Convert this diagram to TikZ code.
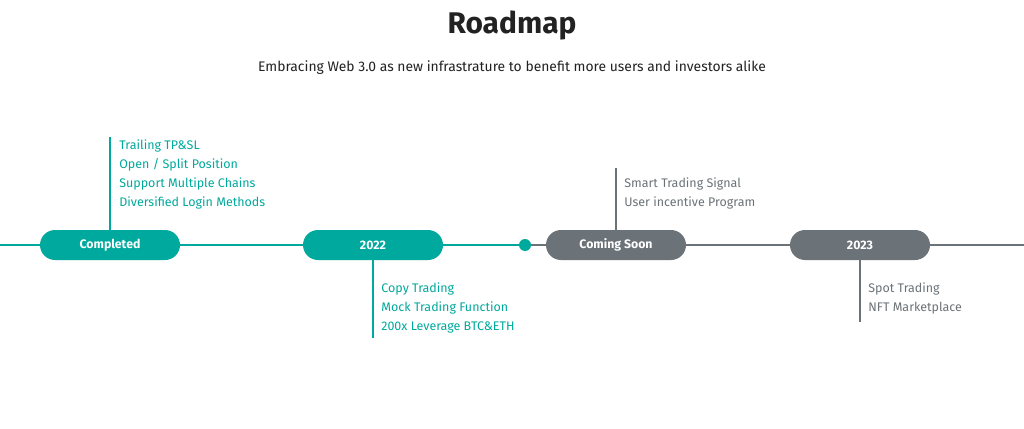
\documentclass[tikz,border=0pt]{standalone}
\usepackage{fontspec}
\setmainfont{Fira Sans}
\definecolor{teal1}{HTML}{00A99D}
\definecolor{gray1}{HTML}{6B7378}
\definecolor{txt}{HTML}{222222}
\begin{document}
\begin{tikzpicture}[x=0.02cm,y=-0.02cm,
 pill/.style={rounded corners=15*0.02cm,minimum width=140*0.02cm,minimum height=30*0.02cm,inner sep=0,text=white,font=\fontsize{7}{8}\selectfont\bfseries},
 item/.style={anchor=west,inner sep=0,font=\fontsize{7.1}{8}\selectfont},
 lt/.style={line width=0.6pt}]
\useasboundingbox (0,0) rectangle (1024,429);
\fill[white] (0,0) rectangle (1024,429);
\node[font=\fontsize{17}{20}\selectfont\bfseries,text=txt] (title) at (512,25) {Roadmap};
\node[font=\fontsize{7.9}{9}\selectfont,text=txt] (sub) at (512,68) {Embracing Web 3.0 as new infrastrature to benefit more users and investors alike};
\coordinate (L) at (0,245); \coordinate (R) at (1024,245);
\node[circle,fill=teal1,minimum size=12*0.02cm,inner sep=0] (dot) at (525,245) {};
\draw[lt,teal1] (L) -- (dot.center);
\draw[lt,gray1] (dot.east) -- (R);
\node[pill,fill=teal1] (c) at (110,245) {Completed};
\node[pill,fill=teal1] (y22) at (373,245) {2022};
\node[pill,fill=gray1] (cs) at (616,245) {Coming Soon};
\node[pill,fill=gray1] (y23) at (860,245) {2023};
\coordinate (a1) at (110,137); \draw[lt,teal1] (c.north) -- (a1);
\coordinate (a2) at (373,338); \draw[lt,teal1] (y22.south) -- (a2);
\coordinate (a3) at (616,168); \draw[lt,gray1] (cs.north) -- (a3);
\coordinate (a4) at (860,322); \draw[lt,gray1] (y23.south) -- (a4);
\begin{scope}[every node/.style={item,text=teal1}]
\node (t1) at (119,146) {Trailing TP\&SL};
\node (t2) at (119,165) {Open / Split Position};
\node (t3) at (119,184) {Support Multiple Chains};
\node (t4) at (119,203) {Diversified Login Methods};
\node (t5) at (381,289) {Copy Trading};
\node (t6) at (381,308) {Mock Trading Function};
\node (t7) at (381,327) {200x Leverage BTC\&ETH};
\end{scope}
\begin{scope}[every node/.style={item,text=gray1}]
\node (g1) at (624,184) {Smart Trading Signal};
\node (g2) at (624,203) {User incentive Program};
\node (g3) at (868,289) {Spot Trading};
\node (g4) at (868,308) {NFT Marketplace};
\end{scope}
\end{tikzpicture}
\end{document}
